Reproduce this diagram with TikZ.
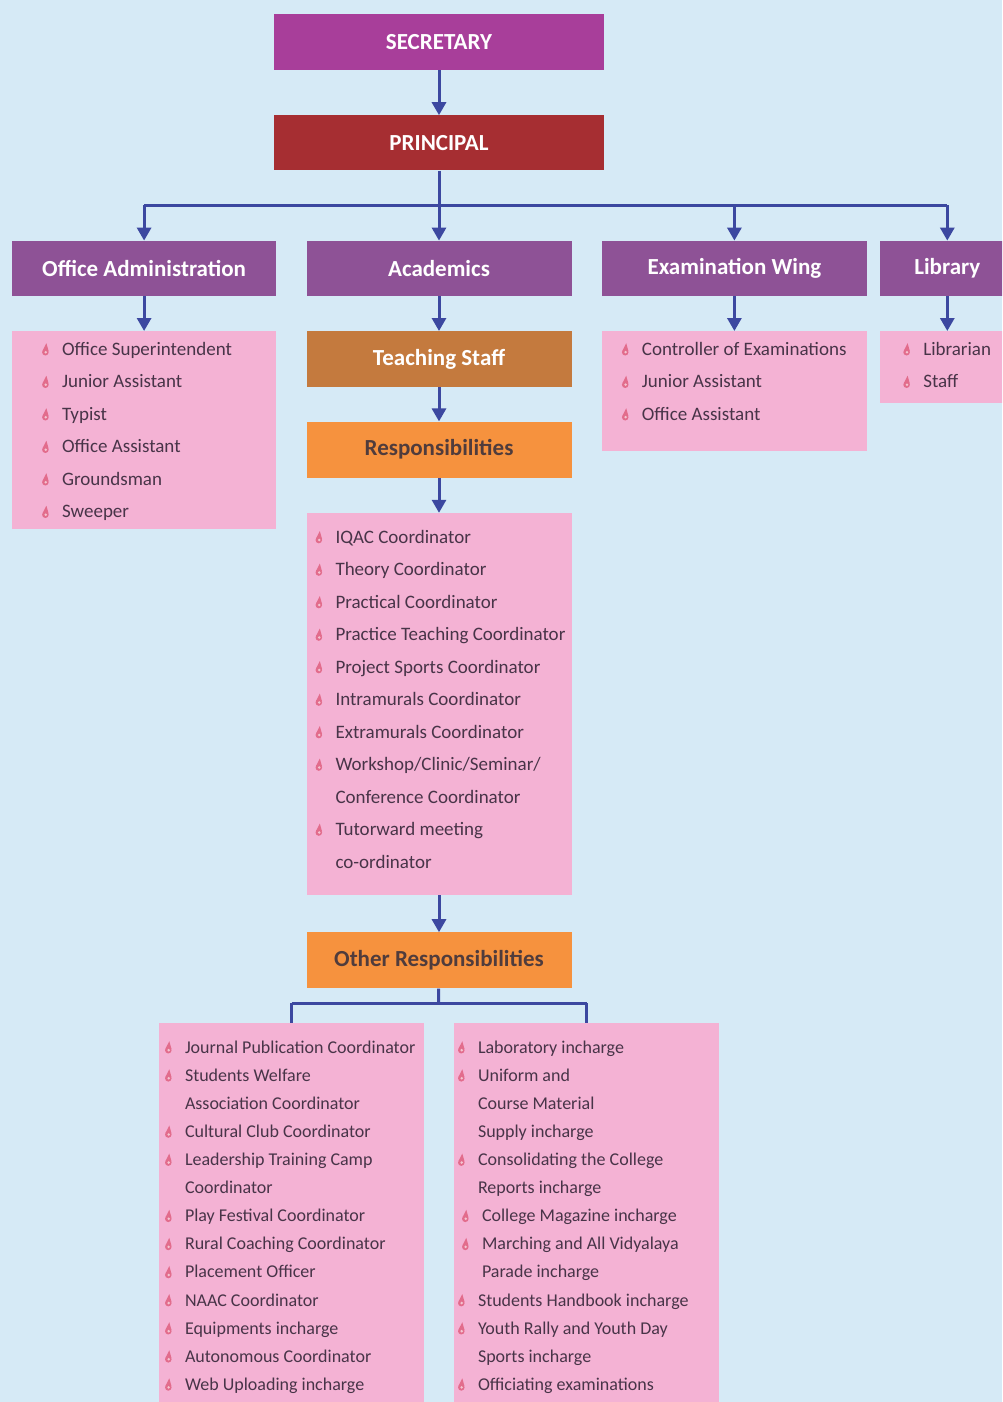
\documentclass[tikz,border=0pt]{standalone}
\usepackage{fontspec}
\setmainfont{Carlito}
\usetikzlibrary{positioning,arrows.meta}
\definecolor{bgblue}{RGB}{214,234,246}
\definecolor{secpink}{RGB}{168,62,154}
\definecolor{princred}{RGB}{166,46,50}
\definecolor{branchpurple}{RGB}{142,82,150}
\definecolor{staffbrown}{RGB}{196,122,62}
\definecolor{resporange}{RGB}{246,146,62}
\definecolor{listpink}{RGB}{244,178,212}
\definecolor{arrowblue}{RGB}{60,72,160}
\definecolor{listgray}{RGB}{72,52,72}
\definecolor{headdark}{RGB}{80,60,60}
\definecolor{bulred}{RGB}{226,108,140}
\newcommand{\bul}{\tikz[baseline=0pt]{\fill[bulred] (3pt,3pt) circle (3.3pt);
  \fill[bulred] (0.2pt,4.5pt) -- (4pt,12pt) -- (6.2pt,4.2pt) -- cycle;
  \fill[white!60!bulred] (3.4pt,3pt) circle (1.4pt);}}
\newcommand{\itm}{\strut\makebox[20pt][l]{\bul}}
\newcommand{\cnt}{\strut\hspace*{20pt}}
\tikzset{head/.style={rectangle,inner sep=0pt,minimum height=56pt,text=white,
           font=\bfseries\fontsize{23}{26}\selectfont},
         branch/.style={head,fill=branchpurple,minimum width=265pt},
         task/.style={head,fill=resporange,minimum width=265pt,text=headdark},
         listbox/.style={rectangle,fill=listpink,inner sep=0pt,minimum width=265pt},
         listtext/.style={anchor=north west,align=left,inner sep=0pt,text=listgray,
           font=\fontsize{19}{32.5}\selectfont},
         smalllist/.style={listtext,font=\fontsize{18}{28.1}\selectfont},
         conn/.style={draw=arrowblue,line width=3pt},
         arr/.style={conn,-{Triangle[length=13pt,width=14pt]}},
}
\begin{document}
\begin{tikzpicture}[x=1pt,y=-1pt]
\useasboundingbox (0,0) rectangle (1002,1402);
\clip (0,0) rectangle (1002,1402);
\fill[bgblue] (0,0) rectangle (1002,1402);

% top of the chart
\node[head,fill=secpink,minimum width=330pt] (sec) at (439,42) {SECRETARY};
\node[head,fill=princred,minimum width=330pt,minimum height=55pt] (prin) [below=45pt of sec] {PRINCIPAL};

% four wings
\node[branch,minimum height=55pt] (acad) [below=70pt of prin] {Academics};
\node[branch,minimum height=55pt,minimum width=264pt] (oa) [left=30pt of acad] {Office Administration};
\node[branch,minimum height=55pt] (exam) [right=30pt of acad] {Examination Wing};
\node[branch,minimum height=55pt,minimum width=134pt] (lib) [right=13pt of exam] {Library};

% academics column
\node[head,fill=staffbrown,minimum width=265pt] (teach) [below=35pt of acad] {Teaching Staff};
\node[task] (resp) [below=34pt of teach] {Responsibilities};
\node[listbox,minimum height=382pt] (respbox) [below=35pt of resp] {};
\node[task] (other) [below=37pt of respbox] {Other Responsibilities};

% staff boxes
\node[listbox,minimum width=264pt,minimum height=198pt] (oabox) [below=35pt of oa] {};
\node[listbox,minimum height=120pt] (exbox) [below=35pt of exam] {};
\node[listbox,minimum width=134pt,minimum height=72pt] (libbox) [below=35pt of lib] {};
\node[listbox,minimum height=400pt,anchor=north] (leftbox) at (291.5,1023) {};
\node[listbox,minimum height=400pt,anchor=north] (rightbox) at (586.5,1023) {};

% lists
\node[listtext] (oalist) at ([xshift=30pt,yshift=-1.25pt]oabox.north west)
  {\itm Office Superintendent\\ \itm Junior Assistant\\ \itm Typist\\
   \itm Office Assistant\\ \itm Groundsman\\ \itm Sweeper};
\node[listtext] (exlist) at ([xshift=20pt,yshift=-1.25pt]exbox.north west)
  {\itm Controller of Examinations\\ \itm Junior Assistant\\ \itm Office Assistant};
\node[listtext] (liblist) at ([xshift=23pt,yshift=-1.25pt]libbox.north west)
  {\itm Librarian\\ \itm Staff};
\node[listtext] (resplist) at ([xshift=9pt,yshift=-7.25pt]respbox.north west)
  {\itm IQAC Coordinator\\ \itm Theory Coordinator\\ \itm Practical Coordinator\\
   \itm Practice Teaching Coordinator\\ \itm Project Sports Coordinator\\
   \itm Intramurals Coordinator\\ \itm Extramurals Coordinator\\
   \itm Workshop/Clinic/Seminar/\\ \cnt Conference Coordinator\\
   \itm Tutorward meeting\\ \cnt co-ordinator};
\node[smalllist] (leftlist) at ([xshift=6pt,yshift=-10.3pt]leftbox.north west)
  {\itm Journal Publication Coordinator\\ \itm Students Welfare\\ \cnt Association Coordinator\\
   \itm Cultural Club Coordinator\\ \itm Leadership Training Camp\\ \cnt Coordinator\\
   \itm Play Festival Coordinator\\ \itm Rural Coaching Coordinator\\ \itm Placement Officer\\
   \itm NAAC Coordinator\\ \itm Equipments incharge\\ \itm Autonomous Coordinator\\
   \itm Web Uploading incharge};
\node[smalllist] (rightlist) at ([xshift=4pt,yshift=-10.3pt]rightbox.north west)
  {\itm Laboratory incharge\\ \itm Uniform and\\ \cnt Course Material\\ \cnt Supply incharge\\
   \itm Consolidating the College\\ \cnt Reports incharge\\
   \hspace*{4pt}\itm College Magazine incharge\\ \hspace*{4pt}\itm Marching and All Vidyalaya\\
   \hspace*{4pt}\cnt Parade incharge\\ \itm Students Handbook incharge\\
   \itm Youth Rally and Youth Day\\ \cnt Sports incharge\\ \itm Officiating examinations};

% connectors
\coordinate (bar) at (439,205);
\coordinate (split) at (438.5,1003);
\draw[arr] (sec) -- (prin);
\draw[conn] (prin) -- (bar);
\draw[conn] (bar -| oa) -- (bar -| lib);
\foreach \n in {oa,acad,exam,lib}
  \draw[arr] (bar -| \n) -- (\n);
\draw[arr] (oa) -- (oabox);
\draw[arr] (acad) -- (teach);
\draw[arr] (exam) -- (exbox);
\draw[arr] (lib) -- (libbox);
\draw[arr] (teach) -- (resp);
\draw[arr] (resp) -- (respbox);
\draw[arr] (respbox) -- (other);
\draw[conn] (other) -- (split);
\draw[conn] (split -| leftbox) -- (split -| rightbox);
\draw[conn] (split -| leftbox) -- (leftbox);
\draw[conn] (split -| rightbox) -- (rightbox);
\end{tikzpicture}
\end{document}
